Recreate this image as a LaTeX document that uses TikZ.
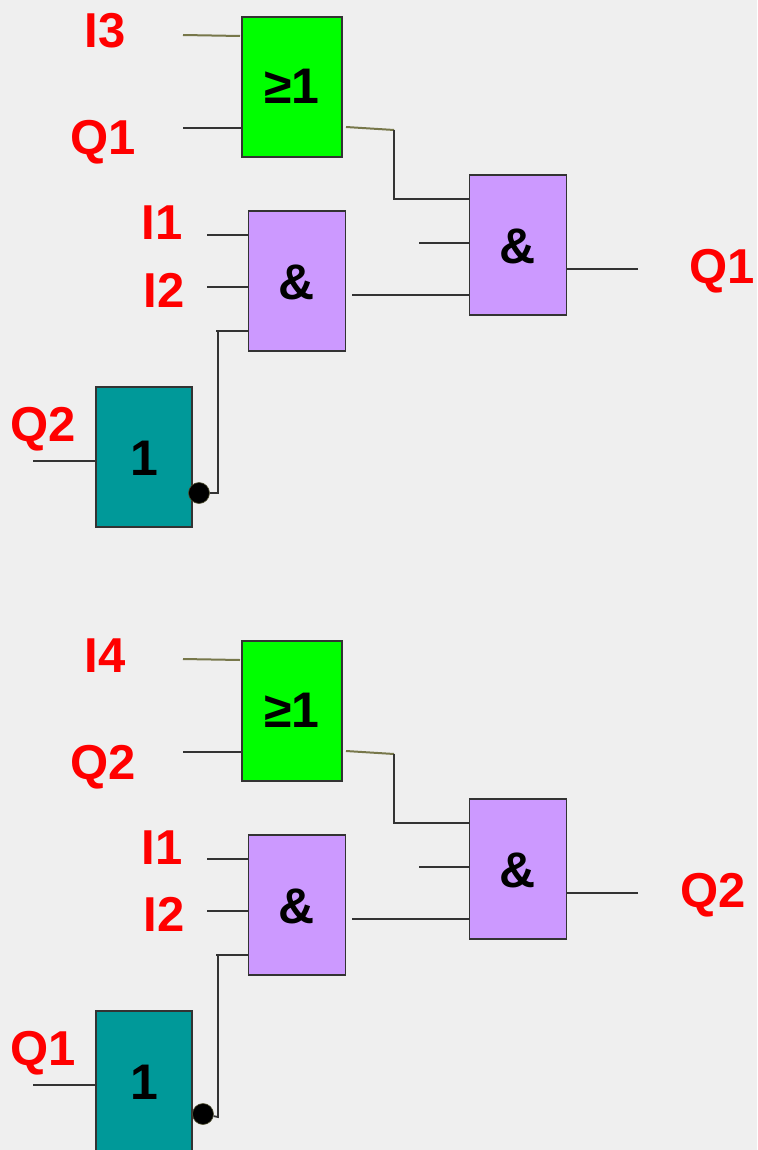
\documentclass[tikz,border=0pt]{standalone}
\usepackage{fontspec}
\setmainfont{Liberation Sans}
\definecolor{bg}{HTML}{EFEFEF}
\definecolor{wirec}{HTML}{333333}
\definecolor{olive}{HTML}{77774A}
\definecolor{orfill}{HTML}{00FF00}
\definecolor{andfill}{HTML}{CC99FF}
\definecolor{notfill}{HTML}{009999}
\tikzset{
  gate/.style={draw=wirec,line width=1.7pt,rectangle,inner sep=0pt,minimum height=140pt,
    text height=37pt,text depth=0pt,text=black,font=\fontsize{50}{50}\selectfont\bfseries},
  orgate/.style={gate,fill=orfill,minimum width=100pt,text height=33pt},
  andgate/.style={gate,fill=andfill,minimum width=97pt},
  notgate/.style={gate,fill=notfill,minimum width=96pt},
  sig/.style={text=red,inner sep=0pt,anchor=base,font=\fontsize{49}{49}\selectfont\bfseries},
  wire/.style={draw=wirec,line width=1.8pt},
  tintwire/.style={draw=olive,line width=2pt},
  bubble/.style={circle,fill=black,draw=black!30!olive,line width=.6pt,minimum size=21pt,inner sep=0pt}
}
% #1 prefix, #2 y offset, #3 set label, #4 feedback, #5 cross-input, #6 output label x,
% #7 output label, #8 bubble x, #9 bubble y
\newcommand{\latchblock}[9]{
  \begin{scope}[shift={(0,#2)}]
    \node[orgate]  (#1or)  at (292,87)  {≥1};
    \node[andgate] (#1a)   at (297,281) {\&};
    \node[andgate] (#1b)   at (518,245) {\&};
    \node[notgate] (#1n)   at (144,457) {1};
    \node[bubble]  (#1bub) at (#8,#9) {};
    \node[sig] (#1l1) at (105,48)  {#3};
    \node[sig] (#1l2) at (103,155) {#4};
    \node[sig] (#1l3) at (162,240) {I1};
    \node[sig] (#1l4) at (164,307) {I2};
    \node[sig] (#1l5) at (43,441)  {#5};
    \node[sig] (#1l6) at (#6,283)  {#7};
    \coordinate (#1c1) at (183,35);
    \coordinate (#1c1e) at (240,36);
    \coordinate (#1c2) at (183,128);
    \coordinate (#1c3) at (346,127);
    \coordinate (#1c4) at (394,130);
    \coordinate (#1c5) at (394,199);
    \coordinate (#1c6) at (419,243);
    \coordinate (#1c7) at (352,295);
    \coordinate (#1c8) at (638,269);
    \coordinate (#1c9) at (207,235);
    \coordinate (#1c10) at (207,287);
    \coordinate (#1c11) at (216,331);
    \coordinate (#1c12) at (218,331);
    \coordinate (#1c13) at (218,493);
    \coordinate (#1c14) at (33,461);
    \draw[tintwire] (#1c1) -- (#1c1e);
    \draw[wire] (#1c2) -- (#1c2 -| #1or.west);
    \draw[tintwire] (#1c3) -- (#1c4);
    \draw[wire] (#1c4) -- (#1c5) -- (#1c5 -| #1b.west);
    \draw[wire] (#1c6) -- (#1c6 -| #1b.west);
    \draw[wire] (#1c7) -- (#1c7 -| #1b.west);
    \draw[wire] (#1c8) -- (#1c8 -| #1b.east);
    \draw[wire] (#1c9) -- (#1c9 -| #1a.west);
    \draw[wire] (#1c10) -- (#1c10 -| #1a.west);
    \draw[wire] (#1c11) -- (#1c11 -| #1a.west);
    \draw[wire] (#1c12) -- (#1c13) -- (#1bub);
    \draw[wire] (#1c14) -- (#1c14 -| #1n.west);
  \end{scope}
}
\begin{document}
\begin{tikzpicture}[x=1pt,y=-1pt]
  \useasboundingbox (0,0) rectangle (757,1150);
  \fill[bg] (0,0) rectangle (757,1150);
  \latchblock{t}{0}{I3}{Q1}{Q2}{722}{Q1}{199}{493}
  \latchblock{u}{624}{I4}{Q2}{Q1}{713}{Q2}{203}{490}
\end{tikzpicture}
\end{document}
